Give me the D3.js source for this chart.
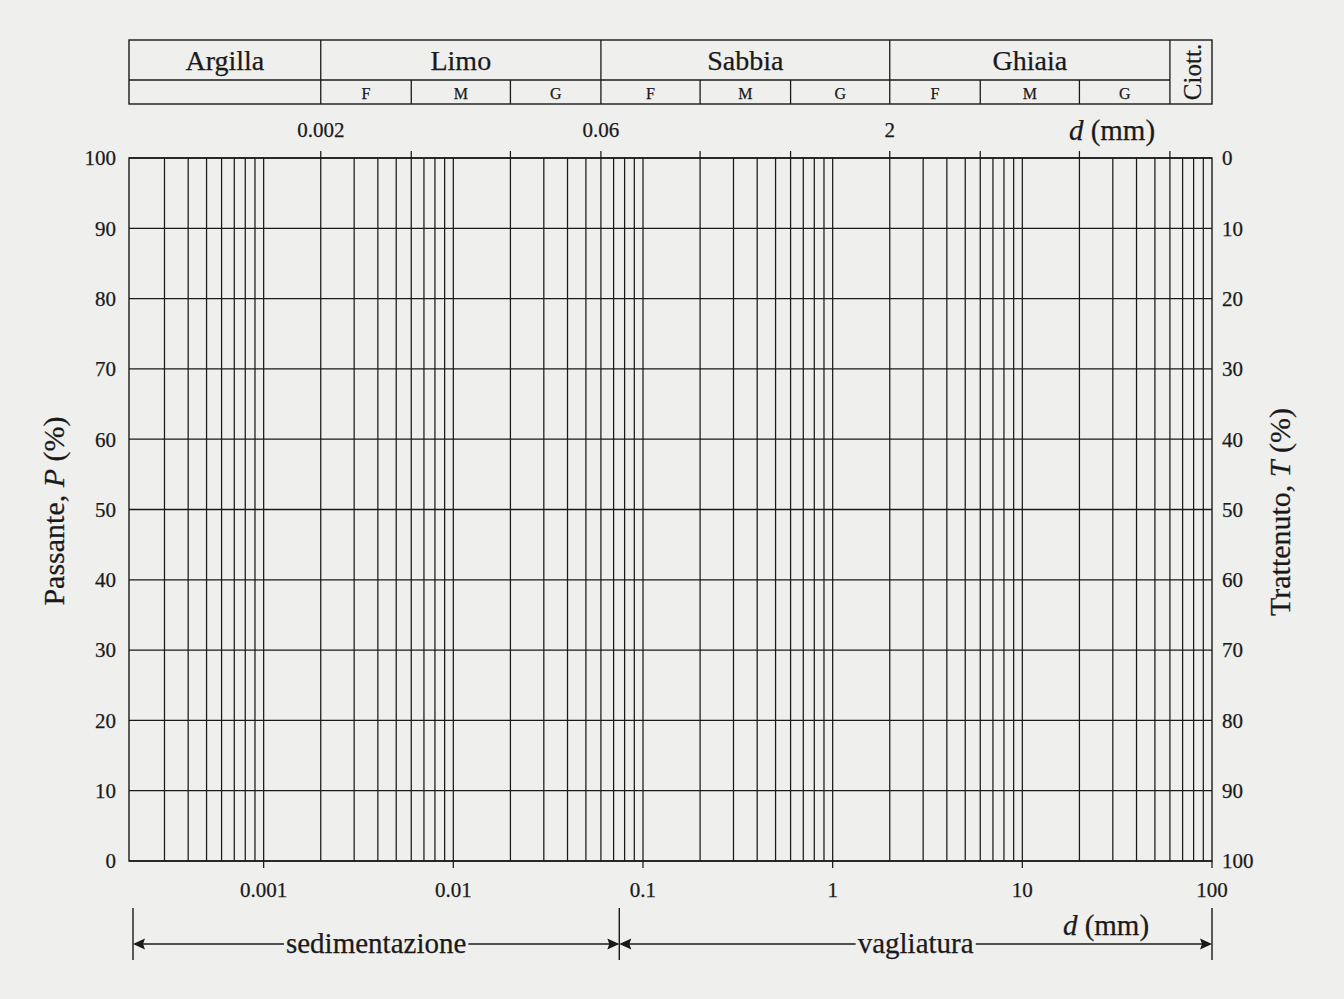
<!DOCTYPE html>
<html>
<head>
<meta charset="utf-8">
<script src="https://cdn.jsdelivr.net/npm/d3@7/dist/d3.min.js"></script>
<style>
html,body{margin:0;padding:0;background:#efefed;}
svg{display:block;}
text{font-family:"Liberation Serif","Times New Roman",serif;fill:#1a1a1a;stroke:#1a1a1a;stroke-width:0.25px;}
</style>
</head>
<body>
<svg id="chart" width="1344" height="999"></svg>
<script>
// ---- data ----
const classes = [
  {name:"Argilla", from:0.000195, to:0.002},
  {name:"Limo",    from:0.002,    to:0.06},
  {name:"Sabbia",  from:0.06,     to:2},
  {name:"Ghiaia",  from:2,        to:60},
  {name:"Ciott.",  from:60,       to:100}
];
const subClasses = [
  {name:"F", from:0.002, to:0.006}, {name:"M", from:0.006, to:0.02}, {name:"G", from:0.02, to:0.06},
  {name:"F", from:0.06,  to:0.2},   {name:"M", from:0.2,   to:0.6},  {name:"G", from:0.6,  to:2},
  {name:"F", from:2,     to:6},     {name:"M", from:6,     to:20},   {name:"G", from:20,   to:60}
];
const boundaryTicks = [0.002, 0.006, 0.02, 0.06, 0.2, 0.6, 2, 6, 20, 60];
const topLabels = [0.002, 0.06, 2];
const decadeTicks = [0.001, 0.01, 0.1, 1, 10, 100];
const decadeLabels = ["0.001", "0.01", "0.1", "1", "10", "100"];
const passTicks = [0, 10, 20, 30, 40, 50, 60, 70, 80, 90, 100];
const dDomain = [0.000195, 100];
const methodSplit = 0.075;
const methods = [
  {name:"sedimentazione", from:dDomain[0], to:methodSplit},
  {name:"vagliatura", from:methodSplit, to:dDomain[1]}
];

// ---- layout ----
const svg = d3.select("#chart");
const ink = "#1a1a1a";
const x = d3.scaleLog().domain(dDomain).range([129, 1212]);
const y = d3.scaleLinear().domain([0, 100]).range([861, 158]);
const yT = d3.scaleLinear().domain([100, 0]).range([861, 158]);
const x0 = x.range()[0], x1 = x.range()[1];
const yb = y(0), yt = y(100);

// vertical grid lines (log ticks 1..9 per decade)
const gridX = x.ticks().filter(v => x(v) > x0 + 3 && x(v) < x1 - 1);
svg.append("g").selectAll("line").data(gridX).join("line")
  .attr("x1", d => x(d)).attr("x2", d => x(d))
  .attr("y1", yt).attr("y2", yb)
  .attr("stroke", ink).attr("stroke-width", 1.25);

// boundary ticks above plot
svg.append("g").selectAll("line").data(boundaryTicks).join("line")
  .attr("x1", d => x(d)).attr("x2", d => x(d))
  .attr("y1", yt - 7).attr("y2", yt)
  .attr("stroke", ink).attr("stroke-width", 1.25);

// decade ticks below plot
svg.append("g").selectAll("line").data(decadeTicks).join("line")
  .attr("x1", d => x(d)).attr("x2", d => x(d))
  .attr("y1", yb).attr("y2", yb + 7)
  .attr("stroke", ink).attr("stroke-width", 1.25);

// horizontal grid lines
svg.append("g").selectAll("line").data(passTicks).join("line")
  .attr("x1", x0).attr("x2", x1)
  .attr("y1", d => y(d)).attr("y2", d => y(d))
  .attr("stroke", ink).attr("stroke-width", 1.3);

// frame
svg.append("rect").attr("x", x0).attr("y", yt).attr("width", x1 - x0).attr("height", yb - yt)
  .attr("fill", "none").attr("stroke", ink).attr("stroke-width", 1.4);

// left axis labels
svg.append("g").selectAll("text").data(passTicks).join("text")
  .attr("x", 116).attr("y", d => y(d)).attr("dy", "0.35em")
  .attr("text-anchor", "end").attr("font-size", 21).text(d => d);
// right axis labels
svg.append("g").selectAll("text").data(passTicks).join("text")
  .attr("x", 1222).attr("y", d => yT(d)).attr("dy", "0.35em")
  .attr("text-anchor", "start").attr("font-size", 21).text(d => d);

// axis titles
const lt = svg.append("text").attr("transform", "translate(64,511) rotate(-90)")
  .attr("text-anchor", "middle").attr("font-size", 30);
lt.append("tspan").text("Passante, ");
lt.append("tspan").attr("font-style", "italic").text("P");
lt.append("tspan").text(" (%)");
const rt = svg.append("text").attr("transform", "translate(1290,512) rotate(-90)")
  .attr("text-anchor", "middle").attr("font-size", 30);
rt.append("tspan").text("Trattenuto, ");
rt.append("tspan").attr("font-style", "italic").text("T");
rt.append("tspan").text(" (%)");

// bottom decade labels
svg.append("g").selectAll("text").data(decadeTicks).join("text")
  .attr("x", d => x(d)).attr("y", 890).attr("dy", "0.35em")
  .attr("text-anchor", "middle").attr("font-size", 21)
  .text((d, i) => decadeLabels[i]);

// top boundary labels
svg.append("g").selectAll("text").data(topLabels).join("text")
  .attr("x", d => x(d)).attr("y", 130).attr("dy", "0.35em")
  .attr("text-anchor", "middle").attr("font-size", 21).text(d => d);

function dmm(cx, cy) {
  const t = svg.append("text").attr("x", cx).attr("y", cy).attr("dy", "0.35em")
    .attr("text-anchor", "middle").attr("font-size", 29);
  t.append("tspan").attr("font-style", "italic").text("d");
  t.append("tspan").text(" (mm)");
}
dmm(1112, 130);
dmm(1106, 925);

// ---- classification table ----
const tTop = 40, tMid = 80, tBot = 104;
const tbl = svg.append("g");
tbl.append("rect").attr("x", x0).attr("y", tTop).attr("width", x1 - x0).attr("height", tBot - tTop)
  .attr("fill", "none").attr("stroke", ink).attr("stroke-width", 1.4);
tbl.append("line").attr("x1", x0).attr("x2", x(60)).attr("y1", tMid).attr("y2", tMid)
  .attr("stroke", ink).attr("stroke-width", 1.3);
tbl.selectAll(".cdiv").data(classes.slice(1)).join("line")
  .attr("x1", d => x(d.from)).attr("x2", d => x(d.from))
  .attr("y1", tTop).attr("y2", tBot).attr("stroke", ink).attr("stroke-width", 1.3);
tbl.selectAll(".sdiv").data(subClasses.filter((d, i) => i % 3 !== 0)).join("line")
  .attr("x1", d => x(d.from)).attr("x2", d => x(d.from))
  .attr("y1", tMid).attr("y2", tBot).attr("stroke", ink).attr("stroke-width", 1.3);
tbl.selectAll(".cname").data(classes.slice(0, 4)).join("text")
  .attr("x", d => (x(d.from) + x(d.to)) / 2).attr("y", 60).attr("dy", "0.35em")
  .attr("text-anchor", "middle").attr("font-size", 28).text(d => d.name);
const ci = classes[4];
tbl.append("text")
  .attr("transform", `translate(${(x(ci.from) + x(ci.to)) / 2 + 1},${(tTop + tBot) / 2}) rotate(-90)`)
  .attr("dy", "0.35em").attr("text-anchor", "middle").attr("font-size", 25).text(ci.name);
tbl.selectAll(".sname").data(subClasses).join("text")
  .attr("x", d => (x(d.from) + x(d.to)) / 2).attr("y", 93).attr("dy", "0.35em")
  .attr("text-anchor", "middle").attr("font-size", 16).text(d => d.name);

// ---- test methods (arrows) ----
const ay = 944, barTop = 908, barBot = 960;
const barXs = [x0 + 4, x(methodSplit), x1];
svg.append("g").selectAll("line").data(barXs).join("line")
  .attr("x1", d => d).attr("x2", d => d).attr("y1", barTop).attr("y2", barBot)
  .attr("stroke", ink).attr("stroke-width", 1.4);

function arrowHead(tipX, dir) { // dir: -1 points left, +1 points right
  const L = 12, h = 5.5;
  svg.append("path")
    .attr("d", `M${tipX},${ay} L${tipX - dir * L},${ay - h} L${tipX - dir * (L - 2)},${ay} L${tipX - dir * L},${ay + h} Z`)
    .attr("fill", ink);
}
methods.forEach((m, i) => {
  const a = i === 0 ? barXs[0] : barXs[1];
  const b = i === 0 ? barXs[1] : barXs[2];
  const t = svg.append("text").attr("x", (a + b) / 2).attr("y", ay).attr("dy", "0.3em")
    .attr("text-anchor", "middle").attr("font-size", 29).text(m.name);
  const bb = t.node().getBBox();
  svg.append("line").attr("x1", a + 2).attr("x2", bb.x - 2).attr("y1", ay).attr("y2", ay)
    .attr("stroke", ink).attr("stroke-width", 1.4);
  svg.append("line").attr("x1", bb.x + bb.width + 2).attr("x2", b - 2).attr("y1", ay).attr("y2", ay)
    .attr("stroke", ink).attr("stroke-width", 1.4);
  arrowHead(a, -1);
  arrowHead(b, 1);
});
</script>
</body>
</html>
